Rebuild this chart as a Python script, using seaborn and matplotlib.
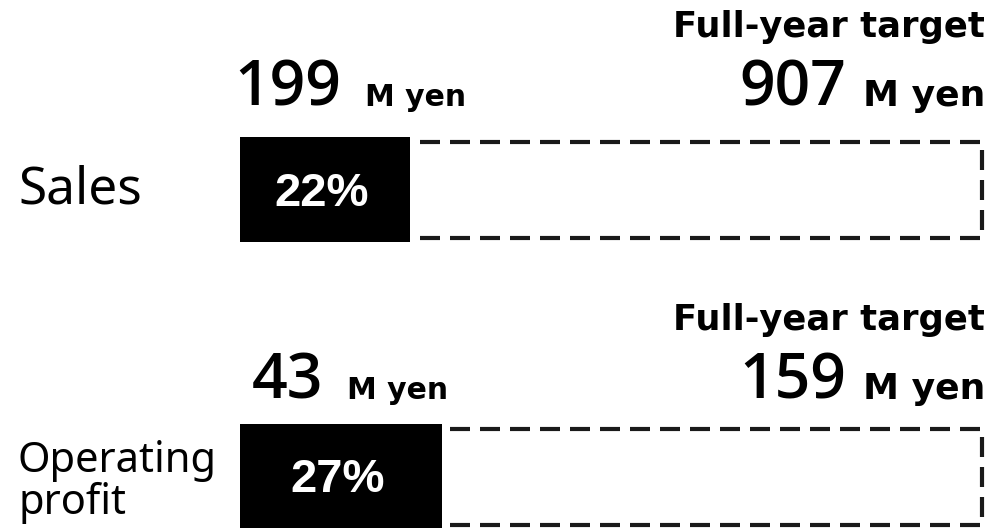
import pandas as pd
import seaborn as sns
import matplotlib.pyplot as plt
from matplotlib.offsetbox import TextArea, HPacker, AnnotationBbox
from matplotlib.transforms import blended_transform_factory

# data
metrics = ["Sales", "Operating\nprofit"]
actual = [199, 43]
target = [907, 159]
progress = [22.9, 27.2]
pct_labels = ["22%", "27%"]
unit = "M yen"
target_title = "Full-year target"

df = pd.DataFrame({
    "metric": metrics,
    "progress": progress,
    "target": [100, 100],
})

sns.set_style("white")
fam = ["Noto Sans", "Noto Sans CJK JP", "DejaVu Sans"]
num_fam = ["Open Sans", "Noto Sans", "DejaVu Sans"]
wide = ["DejaVu Sans"]
plt.rcParams["font.family"] = fam
plt.rcParams["text.color"] = "black"

PT = 72 / 100  # pixels -> points at dpi 100
row_shift = [0, -6]  # second block of text sits a little lower (px)

fig = plt.figure(figsize=(9.93, 5.28), dpi=100)
ax = fig.add_axes([240 / 993, 0, 745 / 993, 1])

# dashed outline = full-year target
sns.barplot(
    data=df, y="metric", x="target", orient="h", ax=ax,
    fill=False, width=0.334, edgecolor="#1a1a1a",
    linewidth=3, linestyle=(0, (4.8, 2.4)),
)
# solid bar = result so far
sns.barplot(
    data=df, y="metric", x="progress", orient="h", ax=ax,
    color="black", saturation=1, width=0.366, linewidth=0,
)

labels = ax.bar_label(
    ax.containers[-1], labels=pct_labels, label_type="center",
    color="white", fontsize=34, fontweight="bold",
    family=["Liberation Sans", "DejaVu Sans"],
)
for lab in labels:
    lab.xyann = (-3 * PT, -4 * PT)

ax.set_xlim(0, 100.4)
ax.set_ylim(1.178, -0.662)
ax.axis("off")

# row names on the left
trans = blended_transform_factory(fig.transFigure, ax.transData)
fig.text(18 / 993, 0.0, metrics[0], transform=trans, va="center",
         ha="left", fontsize=37)
fig.text(18 / 993, 1.017, metrics[1], transform=trans, va="center",
         ha="left", fontsize=30, linespacing=1.0)


def value_box(num, unit_size, sep):
    return HPacker(
        children=[
            TextArea(str(num), textprops=dict(fontsize=45, fontweight="semibold", family=num_fam)),
            TextArea(unit, textprops=dict(fontsize=unit_size, fontweight="bold", family=wide)),
        ],
        align="baseline", pad=0, sep=sep,
    )


for i in range(len(metrics)):
    lift = row_shift[i]
    # actual value, centred over the left part
    ab = AnnotationBbox(
        value_box(actual[i], 21.5, 17), (14.8, i), xybox=(0, (69 + lift) * PT),
        xycoords="data", boxcoords="offset points",
        box_alignment=(0.5, 0), frameon=False, pad=0,
    )
    ax.add_artist(ab)
    # target value, right aligned
    ab = AnnotationBbox(
        value_box(target[i], 26, 12), (100.4, i), xybox=(0, (69 + lift) * PT),
        xycoords="data", boxcoords="offset points",
        box_alignment=(1, 0), frameon=False, pad=0,
    )
    ax.add_artist(ab)
    ax.annotate(
        target_title, xy=(100.4, i), xytext=(0, (153 + lift) * PT),
        textcoords="offset points", ha="right", va="baseline",
        fontsize=25.5, fontweight="bold", family=wide,
    )

plt.savefig("out.png", dpi=100)
